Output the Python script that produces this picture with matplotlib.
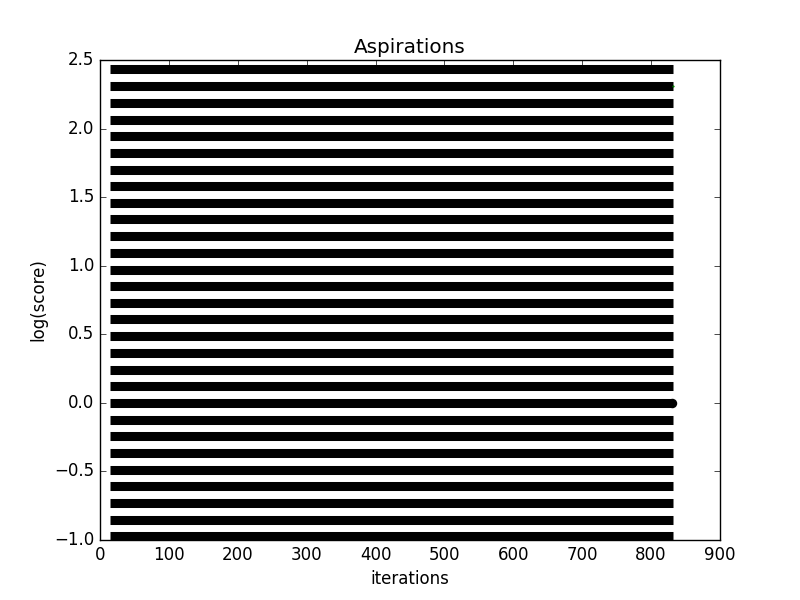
import matplotlib
matplotlib.use("Agg")
import matplotlib.pyplot as plt

plt.style.use('classic')

# log(score) levels observed (one horizontal band each)
levels = [-0.972, -0.851, -0.729, -0.608, -0.486, -0.365, -0.243, -0.122,
          0.0, 0.122, 0.243, 0.365, 0.486, 0.608, 0.729, 0.851, 0.972,
          1.094, 1.215, 1.337, 1.458, 1.580, 1.701, 1.823, 1.945, 2.066,
          2.188, 2.309, 2.431]
iter_start = 15
iter_end = 832
final_iter = 830
final_level = 0.0

fig = plt.figure(figsize=(8, 6), dpi=100)
ax = fig.add_subplot(111)

for lv in levels:
    ax.plot([iter_start, iter_end], [lv, lv], color='black', lw=6.5,
            solid_capstyle='butt')

ax.plot([final_iter], [final_level], 'o', color='black', ms=6.8, mec='black', mew=0)
ax.plot([iter_end], [2.309], marker='.', color='green', ms=2, mec='green')

ax.set_xlim(0, 900)
ax.set_ylim(-1.0, 2.5)
ax.set_title('Aspirations')
ax.set_xlabel('iterations')
ax.set_ylabel('log(score)')

fig.savefig('out.png', dpi=100)
